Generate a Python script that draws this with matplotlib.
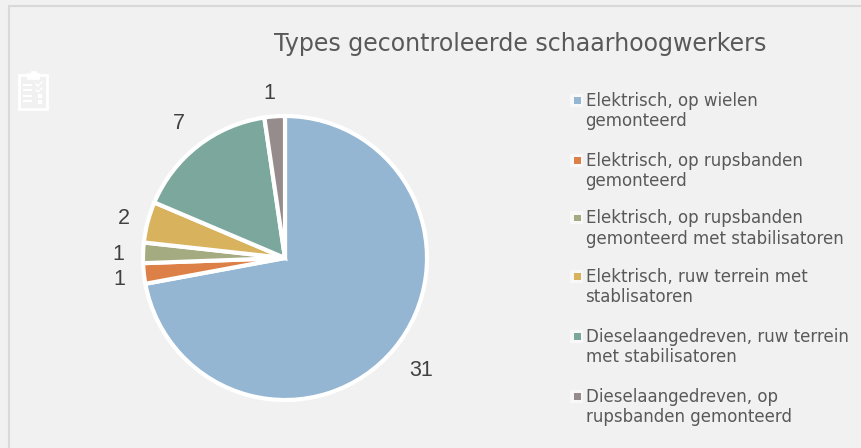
import matplotlib
matplotlib.use("Agg")
import matplotlib.pyplot as plt
from matplotlib.patches import Rectangle
import numpy as np

W, H = 861, 448
categories = [
    "Elektrisch, op wielen\ngemonteerd",
    "Elektrisch, op rupsbanden\ngemonteerd",
    "Elektrisch, op rupsbanden\ngemonteerd met stabilisatoren",
    "Elektrisch, ruw terrein met\nstablisatoren",
    "Dieselaangedreven, ruw terrein\nmet stabilisatoren",
    "Dieselaangedreven, op\nrupsbanden gemonteerd",
]
values = [31, 1, 1, 2, 7, 1]
colors = ["#94B6D2", "#DD8047", "#A5AB81", "#D8B25C", "#7BA79D", "#968C8C"]
title = "Types gecontroleerde schaarhoogwerkers"
TEXT = "#595959"

fig = plt.figure(figsize=(W / 100, H / 100), dpi=100, facecolor="#F1F1F1")
bg = fig.add_axes([0, 0, 1, 1])
bg.set_xlim(0, W); bg.set_ylim(H, 0); bg.axis("off")
bg.add_patch(Rectangle((9, 6.5), W + 20, H + 20, fc="#F1F1F1", ec="#D9D9D9", lw=1.5))

# clipboard icon
ic = "white"
bg.add_patch(Rectangle((19, 75), 28, 34, fc="none", ec=ic, lw=2))
bg.add_patch(Rectangle((27, 73), 12, 6, fc=ic, ec=ic, lw=0.5))
bg.add_patch(Rectangle((30.5, 71), 5, 3, fc=ic, ec=ic, lw=0.5))
for yy in (85, 90, 96, 101):
    bg.plot([23, 32], [yy, yy], color=ic, lw=1.5, solid_capstyle="butt")
for yy in (85, 91):
    bg.plot([36, 38, 42], [yy - 1, yy + 1, yy - 3], color=ic, lw=1)
for yy in (96, 102):
    bg.add_patch(Rectangle((38, yy - 2), 4, 4, fc=ic, ec="none"))

bg.text(520, 44, title, ha="center", va="center", fontsize=17.1,
        family="DejaVu Sans", color=TEXT)

# pie placed by pixel centre and radius
cx, cy, R = 285, 258, 142
box = 1.5 * R
ax = fig.add_axes([(cx - box) / W, 1 - (cy + box) / H, 2 * box / W, 2 * box / H])
wedges, _ = ax.pie(values, colors=colors, startangle=90, counterclock=False, radius=1,
                   wedgeprops=dict(edgecolor="white", linewidth=3), frame=False)
ax.set_xlim(-1.5, 1.5); ax.set_ylim(-1.5, 1.5)

# label anchor: radial distance plus a small pixel nudge (x, y up)
label_radii = [1.235, 1.165, 1.165, 1.165, 1.215, 1.17]
nudges = [(1, 0), (-1, -3), (-1, -3), (-1, -2), (-1, -2), (-4, -1)]
for w, v, r, n in zip(wedges, values, label_radii, nudges):
    a = np.deg2rad((w.theta1 + w.theta2) / 2)
    ax.annotate(str(v), (r * np.cos(a), r * np.sin(a)), xytext=(n[0] * 0.72, n[1] * 0.72),
                textcoords="offset points", ha="center", va="center",
                fontsize=15.5, family="Liberation Sans", color="#404040")

# legend
legend_y = [111, 171, 228.5, 287, 347, 407]
for lab, col, y in zip(categories, colors, legend_y):
    top = y - 10.5
    bg.add_patch(Rectangle((570, top - 6.5), 13, 13, fc="#F8F8F8", ec="none"))
    bg.add_patch(Rectangle((574, top - 3), 6.5, 6.5, fc=col, ec="none"))
    bg.text(585.5, y, lab, ha="left", va="center", fontsize=12, linespacing=1.2,
            family="DejaVu Sans", color=TEXT)

fig.savefig("out.png", dpi=100, facecolor=fig.get_facecolor())
